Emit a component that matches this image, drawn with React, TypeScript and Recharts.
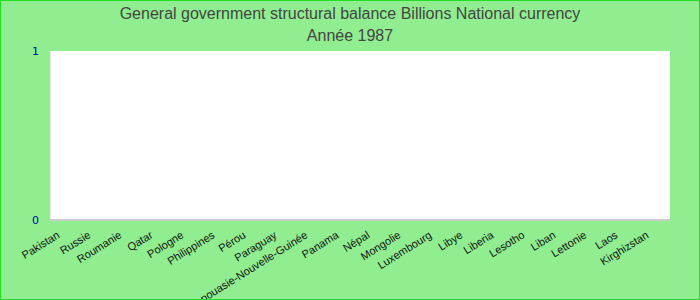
import { BarChart, Bar, XAxis, YAxis, CartesianGrid } from 'recharts';

const countries = [
  'Pakistan', 'Russie', 'Roumanie', 'Qatar', 'Pologne', 'Philippines', 'Pérou', 'Paraguay',
  'Papouasie-Nouvelle-Guinée', 'Panama', 'Népal', 'Mongolie', 'Luxembourg', 'Libye', 'Liberia',
  'Lesotho', 'Liban', 'Lettonie', 'Laos', 'Kirghizstan',
];
// no values reported for 1987
const balance: (number | null)[] = countries.map(() => null);
const yTicks = [0, 1];

const data = countries.map((c, i) => ({ name: c, value: balance[i] }));

const CountryTick = (props: any) => {
  const { x, y, payload } = props;
  return (
    <g transform={`translate(${x - 5},${y + 9})`}>
      <text x={0} y={0} textAnchor="end" fill="#111" fontSize={11}
        fontFamily="'Liberation Sans', Arial, sans-serif" transform="rotate(-32)">
        {payload.value}
      </text>
    </g>
  );
};

export default function App() {
  return (
    <div style={{
      position: 'relative', width: 700, height: 300, boxSizing: 'border-box',
      border: '1px solid #22dd22', background: '#90ee90',
    }}>
      <style>{'body{margin:0}'}</style>
      <div style={{
        position: 'absolute', top: 2, left: 0, width: 698, textAlign: 'center',
        fontFamily: "'Liberation Sans', Arial, sans-serif", fontSize: 16, color: '#444', lineHeight: '22px',
      }}>
        <div>General government structural balance Billions National currency</div>
        <div>Année 1987</div>
      </div>
      <BarChart width={698} height={298} data={data}
        margin={{ top: 50, right: 29, left: 0, bottom: 0 }}>
        <CartesianGrid fill="#fff" horizontal={false} vertical={false} />
        <XAxis dataKey="name" interval={0} height={79} tickLine={false}
          axisLine={{ stroke: '#cccccc', strokeWidth: 2 }} tick={<CountryTick />} />
        <YAxis type="number" width={49} domain={[0, 1]} allowDataOverflow ticks={yTicks}
          tickLine={false} axisLine={{ stroke: '#cccccc' }}
          tick={{ fill: '#0000aa', fontSize: 11, fontFamily: "'DejaVu Sans', sans-serif", dx: -3 }} />
        <YAxis yAxisId="right" type="number" orientation="right" width={0} domain={[0, 1]}
          allowDataOverflow tick={false} tickLine={false} axisLine={{ stroke: '#cccccc', strokeWidth: 2 }} />
        <Bar dataKey="value" fill="#4a7ebb" isAnimationActive={false} />
        <Bar dataKey="value" yAxisId="right" fill="#4a7ebb" isAnimationActive={false} />
      </BarChart>
    </div>
  );
}
